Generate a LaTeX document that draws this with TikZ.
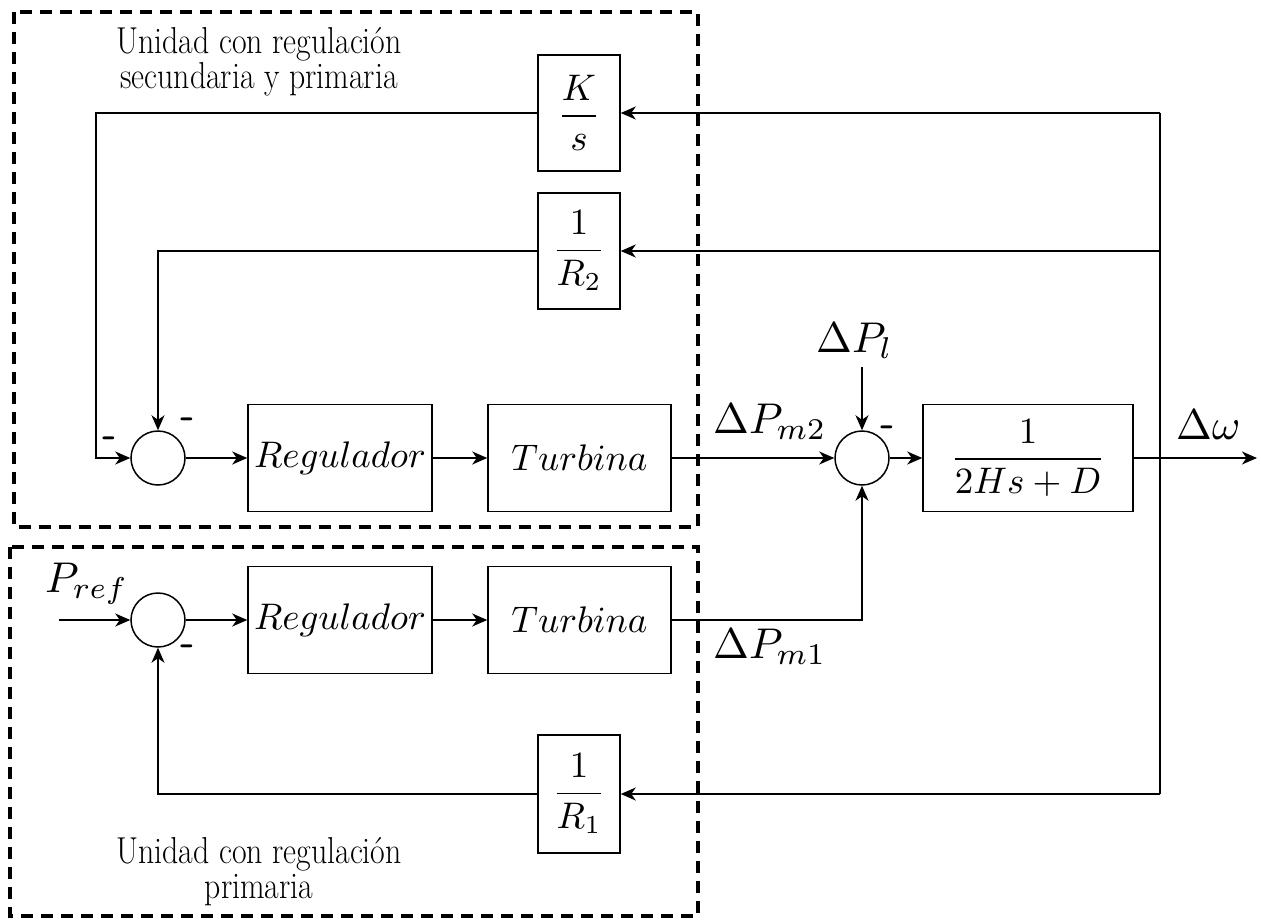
\documentclass[tikz,border=0pt]{standalone}
\usepackage{amsmath}
\usepackage{graphicx}
\usetikzlibrary{arrows.meta}
\newcommand{\blkm}[1]{\scalebox{3.7}{$#1$}}
\newcommand{\sigm}[1]{\scalebox{4.3}{$#1$}}
\newcommand{\tallt}[1]{\scalebox{1.06}[1.25]{#1}}
\tikzset{
  blk/.style={draw, line width=1.5pt, inner sep=0pt},
  sumnode/.style={draw, circle, line width=1.5pt, minimum size=54pt, inner sep=0pt},
  wire/.style={line width=1.5pt},
  arr/.style={line width=1.5pt, -{Stealth[length=15pt, width=13pt, inset=4.5pt]}},
  frame/.style={line width=3.5pt, dash pattern=on 12pt off 8pt},
  sig/.style={inner sep=0pt},
  minus/.style={font=\fontsize{40}{40}\sffamily\bfseries\selectfont, inner sep=0pt},
  unitlabel/.style={font=\fontsize{30}{35}\selectfont, align=center, inner sep=0pt}
}
\begin{document}
\begin{tikzpicture}[x=1pt, y=-1pt]
\useasboundingbox (0,0) rectangle (1261,921);
% dashed frames
\draw[frame] (14,12) rectangle (698,527);
\draw[frame] (10,547) rectangle (698,916);
% labels of units
\node[unitlabel] (lab1) at (259,62) {\tallt{Unidad con regulación}\\\tallt{secundaria y primaria}};
\node[unitlabel] (lab2) at (259,872) {\tallt{Unidad con regulación}\\\tallt{primaria}};
% blocks
\node[blk, minimum width=82pt, minimum height=116pt] (ks) at (579,113) {\blkm{\dfrac{K}{s}}};
\node[blk, minimum width=82pt, minimum height=116pt] (r2) at (579,251) {\blkm{\dfrac{1}{R_2}}};
\node[blk, minimum width=82pt, minimum height=118pt] (r1) at (579,794) {\blkm{\dfrac{1}{R_1}}};
\node[blk, minimum width=184pt, minimum height=107pt] (reg1) at (340,458) {\blkm{Regulador}};
\node[blk, minimum width=183pt, minimum height=107pt] (tur1) at (579.5,458) {\blkm{Turbina}};
\node[blk, minimum width=184pt, minimum height=107pt] (reg2) at (340,620) {\blkm{Regulador}};
\node[blk, minimum width=183pt, minimum height=107pt] (tur2) at (579.5,620) {\blkm{Turbina}};
\node[blk, minimum width=210pt, minimum height=107pt] (g) at (1028,458) {\blkm{\dfrac{1}{2Hs+D}}};
% summing junctions
\node[sumnode] (s1) at (158,458) {};
\node[sumnode] (s3) at (158,620) {};
\node[sumnode] (s2) at (862,458) {};
% coordinates
\coordinate (bk) at (1160,113);
\coordinate (br2) at (1160,251);
\coordinate (br1) at (1160,794);
\coordinate (out) at (1257,458);
\coordinate (pin) at (59,620);
\coordinate (pl) at (862,367);
% signal labels
\node[sig, anchor=base west] (dpm2) at (713,433) {\sigm{\Delta P_{m2}}};
\node[sig, anchor=base west] (dpm1) at (713,658) {\sigm{\Delta P_{m1}}};
\node[sig, anchor=base west] (dw) at (1176,439) {\sigm{\Delta\omega}};
\node[sig, anchor=base west] (dpl) at (816,352) {\sigm{\Delta P_l}};
\node[sig, anchor=base west] (pref) at (45,592) {\sigm{P_{ref}}};
% minus signs
\node[minus] (m1) at (110,442) {-};
\node[minus] (m2) at (188,423) {-};
\node[minus] (m3) at (888,431) {-};
\node[minus] (m4) at (188,650) {-};
% connections
\draw[wire] (bk) -- (br1);
\draw[arr] (bk) -- (ks.east);
\draw[arr] (br2) -- (r2.east);
\draw[arr] (br1) -- (r1.east);
\draw[arr] (ks.west) -| (96,458) -- (s1.west);
\draw[arr] (r2.west) -| (s1.north);
\draw[arr] (r1.west) -| (s3.south);
\draw[arr] (s1.east) -- (reg1.west);
\draw[arr] (reg1.east) -- (tur1.west);
\draw[arr] (tur1.east) -- (s2.west);
\draw[arr] (pin) -- (s3.west);
\draw[arr] (s3.east) -- (reg2.west);
\draw[arr] (reg2.east) -- (tur2.west);
\draw[arr] (tur2.east) -| (s2.south);
\draw[arr] (pl) -- (s2.north);
\draw[arr] (s2.east) -- (g.west);
\draw[arr] (g.east) -- (out);
\end{tikzpicture}
\end{document}
